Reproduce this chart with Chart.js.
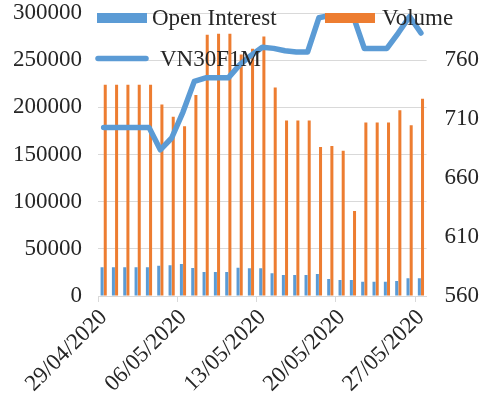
<!DOCTYPE html>
<html><head><meta charset="utf-8">
<script src="https://cdn.jsdelivr.net/npm/chart.js@4/dist/chart.umd.min.js"></script>
<style>html,body{margin:0;padding:0;background:#fff;}canvas{display:block;}</style>
</head><body>
<canvas id="c" width="494" height="401"></canvas>
<script>
const categories = ['29/04/2020','30/04/2020','01/05/2020','02/05/2020','03/05/2020','04/05/2020','05/05/2020',
  '06/05/2020','07/05/2020','08/05/2020','09/05/2020','10/05/2020','11/05/2020','12/05/2020',
  '13/05/2020','14/05/2020','15/05/2020','16/05/2020','17/05/2020','18/05/2020','19/05/2020',
  '20/05/2020','21/05/2020','22/05/2020','23/05/2020','24/05/2020','25/05/2020','26/05/2020','27/05/2020'];
const openInterest = [30500,30500,30500,30500,30500,32000,32500,34000,29700,25500,25500,25500,30000,29500,29500,
  24000,22300,22300,22300,23400,18000,17000,17000,15200,15200,15200,16000,18800,18800];
const volume = [224000,224000,224000,224000,224000,203000,190000,180000,213000,277000,278000,278000,256000,262000,275000,
  221000,186000,186000,186000,158000,159000,154000,90000,184000,184000,184000,197000,181000,209000];
const vn30f1m = [703,703,703,703,703,684,694,716,742,745,745,745,756,764,771,
  770,768,767,767,796,798,798,798,770,770,770,783,797,783];
const leftTicks = [0,50000,100000,150000,200000,250000,300000];
const rightTicks = [560,610,660,710,760];
const labelEvery = 7;

const FONT = "'Liberation Serif', 'Times New Roman', serif";
const TEXT = '#262626';
const GRID = '#D9D9D9';
const BLUE = '#5B9BD5';
const ORANGE = '#ED7D31';

const legendPlugin = {
  id: 'excelLegend',
  afterDraw(chart) {
    const ctx = chart.ctx;
    const ds = chart.data.datasets;
    const items = [
      {d: 0, kind: 'box', x: 97, y: 18, tx: 152},
      {d: 1, kind: 'box', x: 325, y: 18, tx: 382},
      {d: 2, kind: 'line', x: 97, y: 58.5, tx: 160}
    ];
    ctx.save();
    ctx.font = '23px ' + FONT;
    ctx.textBaseline = 'middle';
    ctx.textAlign = 'left';
    items.forEach(it => {
      const d = ds[it.d];
      if (it.kind === 'box') {
        ctx.fillStyle = d.backgroundColor;
        ctx.fillRect(it.x, it.y - 5, 50, 10);
      } else {
        ctx.strokeStyle = d.borderColor;
        ctx.lineWidth = 5.5;
        ctx.lineCap = 'round';
        ctx.beginPath();
        ctx.moveTo(it.x + 1, it.y);
        ctx.lineTo(it.x + 49, it.y);
        ctx.stroke();
      }
      ctx.fillStyle = TEXT;
      ctx.fillText(d.label, it.tx, it.y + 1);
    });
    ctx.restore();
  }
};

const noVPad = s => { s.paddingTop = 0; s.paddingBottom = 0; };

new Chart(document.getElementById('c'), {
  data: {
    labels: categories,
    datasets: [
      {type: 'bar', label: 'Open Interest', data: openInterest, backgroundColor: BLUE, yAxisID: 'y', order: 1,
       categoryPercentage: 0.56, barPercentage: 0.95},
      {type: 'bar', label: 'Volume', data: volume, backgroundColor: ORANGE, yAxisID: 'y', order: 2,
       categoryPercentage: 0.56, barPercentage: 0.95},
      {type: 'line', label: 'VN30F1M', data: vn30f1m, borderColor: BLUE, backgroundColor: BLUE, yAxisID: 'y1', order: 0,
       borderWidth: 5.5, pointRadius: 0, tension: 0, borderJoinStyle: 'round', borderCapStyle: 'round'}
    ]
  },
  options: {
    responsive: false,
    animation: false,
    devicePixelRatio: 1,
    layout: {padding: {top: 13, left: 0, right: 0, bottom: 0}},
    plugins: {legend: {display: false}, tooltip: {enabled: false}},
    font: {family: FONT, size: 23},
    scales: {
      x: {
        type: 'category',
        offset: true,
        grid: {offset: true, drawOnChartArea: false, drawTicks: true, tickLength: 6,
               color: c => (c.index % labelEvery === 0 && c.index < categories.length) ? GRID : 'rgba(0,0,0,0)'},
        border: {display: true, color: GRID, width: 1},
        ticks: {autoSkip: false, minRotation: 45, maxRotation: 45, padding: 2, color: TEXT,
                font: {family: FONT, size: 23},
                callback: (v, i) => (i % labelEvery === 0 ? categories[i] : '')},
        afterFit: s => { s.height = 105; }
      },
      y: {
        position: 'left', min: 0, max: 300000,
        afterBuildTicks: s => { s.ticks = leftTicks.map(v => ({value: v})); },
        grid: {color: GRID, lineWidth: 1, drawTicks: false},
        border: {display: false},
        ticks: {padding: 16, color: TEXT, font: {family: FONT, size: 23}, callback: v => String(v)},
        afterFit: s => { s.width = 98; noVPad(s); }
      },
      y1: {
        position: 'right', min: 560, max: 800,
        afterBuildTicks: s => { s.ticks = rightTicks.map(v => ({value: v})); },
        grid: {display: false, drawTicks: false},
        border: {display: false},
        ticks: {padding: 18, color: TEXT, font: {family: FONT, size: 23}, callback: v => String(v)},
        afterFit: s => { s.width = 67.4; noVPad(s); }
      }
    }
  },
  plugins: [legendPlugin]
});
</script>
</body></html>
